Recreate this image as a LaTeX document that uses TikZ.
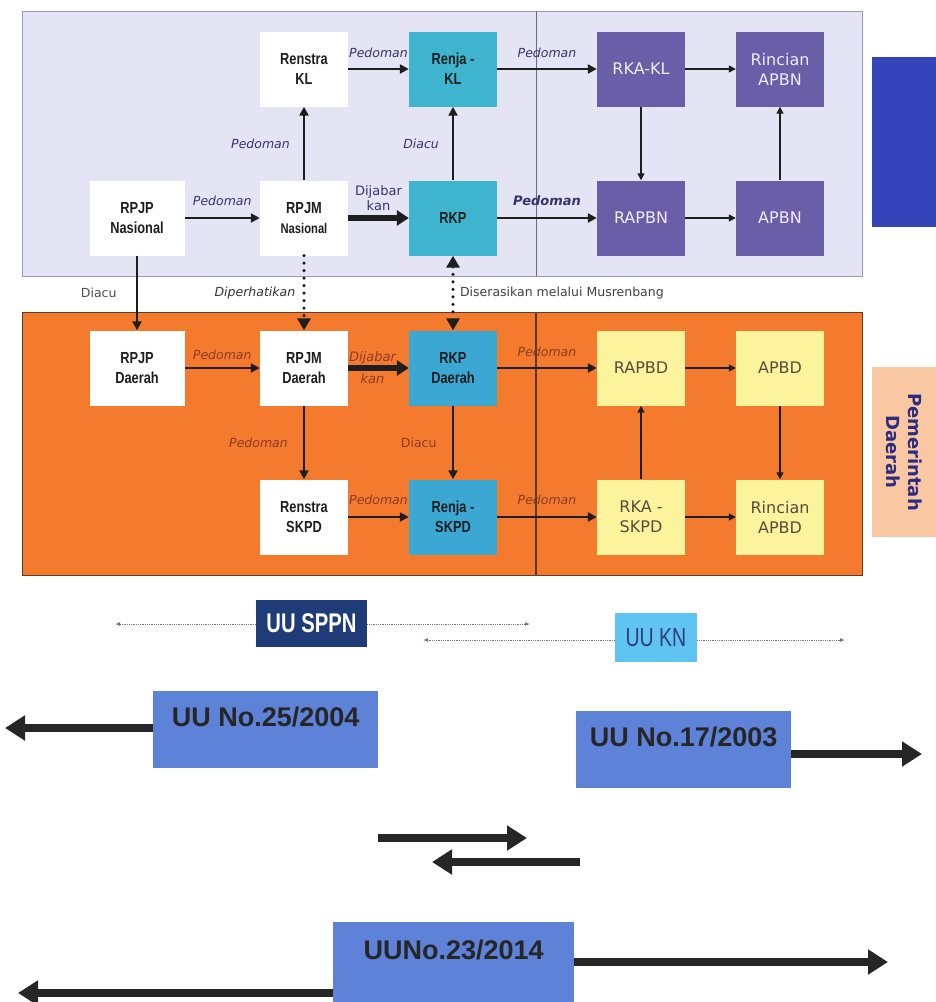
\documentclass[tikz,border=0pt]{standalone}
\usepackage{fontspec}
\setmainfont{DejaVu Sans}
\newfontfamily\boxfont[FakeStretch=0.8]{Liberation Sans}
\newfontfamily\lawfont{Liberation Sans}
\newfontfamily\lawnarrow[FakeStretch=0.75]{Liberation Sans}
\usetikzlibrary{arrows.meta,positioning,calc}
\definecolor{ink}{HTML}{1E1E1E}
\definecolor{pusatBg}{HTML}{E4E4F4}
\definecolor{pusatEdge}{HTML}{8F9ACB}
\definecolor{daerahBg}{HTML}{F47B2E}
\definecolor{daerahEdge}{HTML}{5E3A28}
\definecolor{tealTop}{HTML}{3FB4CE}
\definecolor{tealLow}{HTML}{3BA7D3}
\definecolor{slate}{HTML}{6A5EA8}
\definecolor{paleText}{HTML}{EEEDF8}
\definecolor{lemon}{HTML}{FBF49C}
\definecolor{lemonText}{HTML}{5A4A3E}
\definecolor{royal}{HTML}{3343B8}
\definecolor{peach}{HTML}{F9C8A2}
\definecolor{navyText}{HTML}{2C2C80}
\definecolor{labelNavy}{HTML}{35356E}
\definecolor{labelBrown}{HTML}{8C3A2A}
\definecolor{sppnBlue}{HTML}{203C78}
\definecolor{knBlue}{HTML}{5FC4F2}
\definecolor{knText}{HTML}{2E3E78}
\definecolor{lawBlue}{HTML}{5D82D8}
\definecolor{bigInk}{HTML}{262626}
\definecolor{faintInk}{HTML}{8A7070}

\begin{document}
\begin{tikzpicture}[
    x=1pt, y=-1pt,
    plan/.style={fill=white, minimum width=88pt, minimum height=75pt, inner sep=1pt, align=center, font=\boxfont\bfseries\fontsize{16}{20}\selectfont, text=ink},
    kerja/.style={plan, fill=tealTop},
    kerjaD/.style={plan, fill=tealLow},
    anggaran/.style={fill=slate, minimum width=88pt, minimum height=75pt, inner sep=1pt, align=center, font=\fontsize{16}{20}\selectfont, text=paleText},
    kuning/.style={anggaran, fill=lemon, text=lemonText},
    tag/.style={fill=peach, minimum width=170pt, minimum height=64pt, inner sep=0pt, rotate=-90, align=center, font=\bfseries\fontsize{18}{22}\selectfont, text=navyText},
    lbl/.style={font=\itshape\fontsize{12.5}{14}\selectfont, text=labelNavy, inner sep=1pt},
    lblD/.style={lbl, text=labelBrown},
    line/.style={draw=ink, -{Triangle[length=9pt,width=9pt]}, line width=2.4pt},
    heavy/.style={draw=ink, -{Triangle[length=12pt,width=15pt]}, line width=5.5pt},
    slim/.style={draw=ink, -{Triangle[length=7pt,width=7pt]}, line width=1.4pt},
    dots/.style={draw=ink, line width=3.5pt, dash pattern=on 0pt off 7.5pt, line cap=round},
    lawbox/.style={fill=lawBlue, inner xsep=0pt, inner ysep=0pt, anchor=north west, font=\lawfont\bfseries\fontsize{27}{30}\selectfont, text=black!85, text height=35.7pt, text depth=41.3pt},
    big/.style={draw=bigInk, line width=8pt, -{Triangle[length=20pt,width=24pt]}},
    faint/.style={draw=faintInk, line width=0.8pt, densely dotted, -{Latex[length=5pt,width=4pt]}}
  ]
    \useasboundingbox (0,0) rectangle (936,1002);

    % Panels
    \draw[draw=pusatEdge, fill=pusatBg, line width=0.8pt] (22,11) rectangle (862,276);
    \draw[draw=pusatEdge!70!black, line width=1pt] (536,11) -- (536,276);
    \draw[draw=daerahEdge, fill=daerahBg, line width=0.8pt] (22,312) rectangle (862,575);
    \draw[draw=daerahEdge, line width=1.2pt] (536,312) -- (536,575);

    % Nodes Pusat
    \node[plan] (renstraKL) at (304,69) {Renstra\\KL};
    \node[kerja] (renjaKL) at (453,69) {Renja -\\KL};
    \node[anggaran] (rkaKL) at (641,69) {RKA-KL};
    \node[anggaran] (rincianAPBN) at (780,69) {Rincian\\APBN};
    \node[plan, minimum width=95pt] (rpjpN) at (137,218) {RPJP\\Nasional};
    \node[plan] (rpjmN) at (304,218) {RPJM\\{\fontsize{14}{16}\selectfont Nasional}};
    \node[kerja] (rkp) at (453,218) {RKP};
    \node[anggaran] (rapbn) at (641,218) {RAPBN};
    \node[anggaran] (apbn) at (780,218) {APBN};

    % Nodes Daerah
    \node[plan, minimum width=95pt] (rpjpD) at (137,368) {RPJP\\Daerah};
    \node[plan] (rpjmD) at (304,368) {RPJM\\Daerah};
    \node[kerjaD] (rkpD) at (453,368) {RKP\\Daerah};
    \node[plan] (renstraSKPD) at (304,517) {Renstra\\SKPD};
    \node[kerjaD] (renjaSKPD) at (453,517) {Renja -\\SKPD};
    \node[kuning] (rapbd) at (641,368) {RAPBD};
    \node[kuning] (apbd) at (780,368) {APBD};
    \node[kuning] (rkaSKPD) at (641,517) {RKA -\\SKPD};
    \node[kuning] (rincianAPBD) at (780,517) {Rincian\\APBD};

    % Side tags
    \node[fill=royal, minimum width=64pt, minimum height=170pt, inner sep=0pt] (tagPusat) at (904,142) {};
    \node[tag] (tagDaerah) at (904,452) {Pemerintah\\Daerah};

    % Edges Pusat
    \draw[line] (renstraKL) -- node[lbl, above=9pt]{Pedoman} (renjaKL);
    \draw[line] (rpjmN) -- node[lbl, left=12pt]{Pedoman} (renstraKL);
    \draw[line] (rkp) -- node[lbl, left=12pt]{Diacu} (renjaKL);
    \draw[line] (rpjpN) -- node[lbl, above=10pt]{Pedoman} (rpjmN);
    \draw[heavy] (rpjmN) -- node[above=1pt, align=center, font=\fontsize{13}{15}\selectfont, text=labelNavy]{Dijabar\\kan} (rkp);
    \draw[line] (renjaKL) -- node[lbl, above=9pt]{Pedoman} (rkaKL);
    \draw[line] (rkp) -- node[lbl, font=\bfseries\itshape\fontsize{13}{15}\selectfont, above=10pt]{Pedoman} (rapbn);
    \draw[slim] (rkaKL) -- (rincianAPBN);
    \draw[slim] (rkaKL) -- (rapbn);
    \draw[slim] (rapbn) -- (apbn);
    \draw[slim] (apbn) -- (rincianAPBN);

    % Edges Pusat to Daerah
    \draw[line] (rpjpN) -- node[left=16pt, font=\fontsize{12.5}{14}\selectfont, text=black!70]{Diacu} (rpjpD);
    \draw[dots, -{Triangle[length=12pt,width=13pt]}] (rpjmN) -- node[lbl, left=6pt, text=black!80]{Diperhatikan} (rpjmD);
    \draw[dots, {Triangle[length=12pt,width=13pt]}-{Triangle[length=12pt,width=13pt]}] (rkp) -- node[right=2pt, font=\fontsize{12.5}{14}\selectfont, text=black!75]{Diserasikan melalui Musrenbang} (rkpD);

    % Edges Daerah
    \draw[line] (rpjpD) -- node[lblD, above=6pt]{Pedoman} (rpjmD);
    \draw[heavy] (rpjmD) -- node[lblD, align=center, xshift=-6pt, font=\itshape\fontsize{13}{22}\selectfont]{Dijabar\\kan} (rkpD);
    \draw[line] (rpjmD) -- node[lblD, left=14pt]{Pedoman} (renstraSKPD);
    \draw[line] (rkpD) -- node[left=12pt, font=\fontsize{12.5}{14}\selectfont, text=labelBrown]{Diacu} (renjaSKPD);
    \draw[line] (renstraSKPD) -- node[lblD, above=10pt]{Pedoman} (renjaSKPD);
    \draw[line] (rkpD) -- node[lblD, above=9pt]{Pedoman} (rapbd);
    \draw[line] (renjaSKPD) -- node[lblD, above=10pt]{Pedoman} (rkaSKPD);
    \draw[slim] (rapbd) -- (apbd);
    \draw[slim] (apbd) -- (rincianAPBD);
    \draw[slim] (rkaSKPD) -- (rapbd);
    \draw[slim] (rkaSKPD) -- (rincianAPBD);

    % Undang-undang
    \node[fill=sppnBlue, minimum width=111pt, minimum height=47pt, inner sep=0pt, font=\lawnarrow\bfseries\fontsize{27}{30}\selectfont, text=white] (uuSPPN) at (311.5,623.5) {UU SPPN};
    \node[fill=knBlue, minimum width=82pt, minimum height=49pt, inner sep=0pt, font=\lawnarrow\fontsize{26}{30}\selectfont, text=knText] (uuKN) at (656,637.5) {UU KN};
    \coordinate (sppnL) at (115,624);
    \coordinate (sppnR) at (530,624);
    \coordinate (knL) at (423,640);
    \coordinate (knR) at (845,640);
    \draw[faint] (uuSPPN.west |- sppnL) -- (sppnL);
    \draw[faint] (uuSPPN.east |- sppnR) -- (sppnR);
    \draw[faint] (uuKN.west |- knL) -- (knL);
    \draw[faint] (uuKN.east |- knR) -- (knR);

    \node[lawbox, minimum width=225pt] (uu25) at (153,691) {UU No.25/2004};
    \node[lawbox, minimum width=215pt] (uu17) at (576,711) {UU No.17/2003};
    \node[lawbox, minimum width=241pt, text height=37.7pt, text depth=80pt] (uu23) at (333,922) {UUNo.23/2014};

    \coordinate (tip25) at (5,728);
    \coordinate (tip17) at (922,754);
    \coordinate (tip23R) at (888,962);
    \coordinate (tip23L) at (18,993);
    \draw[big] (uu25.west |- tip25) -- (tip25);
    \draw[big] (uu17.east |- tip17) -- (tip17);
    \draw[big] (uu23.east |- tip23R) -- (tip23R);
    \draw[big] (uu23.west |- tip23L) -- (tip23L);

    \coordinate (midA) at (378,838);
    \coordinate (midB) at (527,838);
    \coordinate (midC) at (580,862);
    \coordinate (midD) at (432,862);
    \draw[big] (midA) -- (midB);
    \draw[big] (midC) -- (midD);
  \end{tikzpicture}
\end{document}
